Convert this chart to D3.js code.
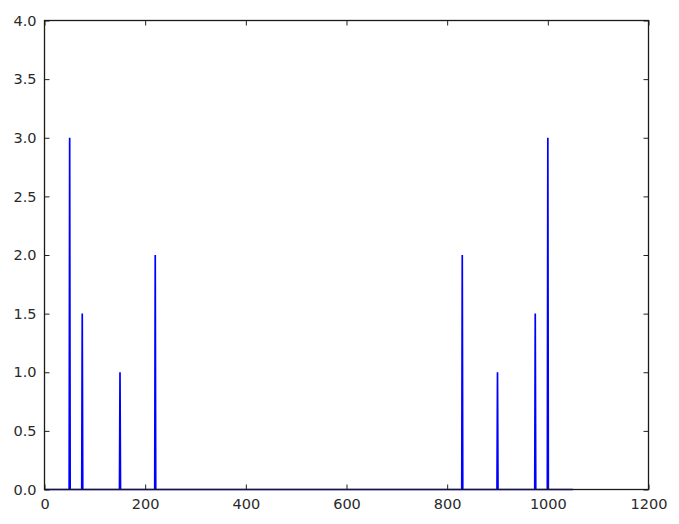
<!DOCTYPE html>
<html><head><meta charset="utf-8">
<script src="https://cdn.jsdelivr.net/npm/d3@7"></script>
<style>
html,body{margin:0;padding:0;background:#fff;}
text{font-family:"DejaVu Sans",sans-serif;}
</style></head>
<body><svg id="c" width="679" height="524"></svg>
<script>
// Line vertices (index, value)
const xValues = [0, 49,50,51, 74,75,76, 149,150,151, 219,220,221, 829,830,831, 899,900,901, 974,975,976, 999,1000,1001, 1050];
const yValues = [0, 0,3,0, 0,1.5,0, 0,1,0, 0,2,0, 0,2,0, 0,1,0, 0,1.5,0, 0,3,0, 0];
const xTicks = [0, 200, 400, 600, 800, 1000, 1200];
const yTicks = [0.0, 0.5, 1.0, 1.5, 2.0, 2.5, 3.0, 3.5, 4.0];

const svg = d3.select("#c");
const L = 44.5, R = 648.5, T = 20.5, B = 489.5;
const x = d3.scaleLinear().domain([0, 1200]).range([L, R]);
const y = d3.scaleLinear().domain([0, 4]).range([B, T]);

const pts = xValues.map((v, i) => [v, yValues[i]]);
svg.append("path")
  .attr("d", d3.line().x(d => x(d[0])).y(d => y(d[1]))(pts))
  .attr("fill", "none").attr("stroke", "#0000ff").attr("stroke-width", 1.7);

const fmtY = d3.format(".1f");
const gb = svg.append("g").attr("transform", `translate(0,${B})`)
  .call(d3.axisBottom(x).tickValues(xTicks).tickSize(-5).tickPadding(9).tickFormat(d3.format("d")));
const gt = svg.append("g").attr("transform", `translate(0,${T})`)
  .call(d3.axisTop(x).tickValues(xTicks).tickSize(-5).tickFormat(""));
const gl = svg.append("g").attr("transform", `translate(${L},0)`)
  .call(d3.axisLeft(y).tickValues(yTicks).tickSize(-5).tickPadding(8).tickFormat(fmtY));
const gr = svg.append("g").attr("transform", `translate(${R},0)`)
  .call(d3.axisRight(y).tickValues(yTicks).tickSize(-5).tickFormat(""));
[gb, gt, gl, gr].forEach(g => {
  g.select(".domain").remove();
  g.selectAll(".tick line").attr("stroke", "#222").attr("stroke-width", 1);
  g.selectAll("text").attr("font-size", 14.5).attr("fill", "#2a2a2a").attr("font-family", "DejaVu Sans, sans-serif");
});
svg.append("rect").attr("x", L).attr("y", T).attr("width", R - L).attr("height", B - T)
  .attr("fill", "none").attr("stroke", "#1a1a1a").attr("stroke-width", 1.3);
</script></body></html>
